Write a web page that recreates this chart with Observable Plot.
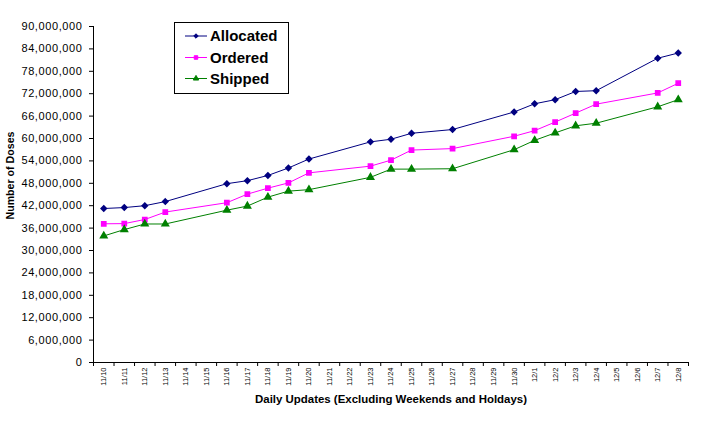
<!DOCTYPE html>
<html><head><meta charset="utf-8">
<script src="https://cdn.jsdelivr.net/npm/d3@7"></script>
<script src="https://cdn.jsdelivr.net/npm/@observablehq/plot@0.6"></script>
<style>
html,body{margin:0;padding:0;background:#fff;}
#chart{width:703px;height:423px;overflow:hidden;}
</style>
</head><body><div id="chart"></div>
<script>
const dayLabels = ["11/10","11/11","11/12","11/13","11/14","11/15","11/16","11/17","11/18","11/19","11/20","11/21","11/22","11/23","11/24","11/25","11/26","11/27","11/28","11/29","11/30","12/1","12/2","12/3","12/4","12/5","12/6","12/7","12/8"];
const updateDays = ["11/10","11/11","11/12","11/13","11/16","11/17","11/18","11/19","11/20","11/23","11/24","11/25","11/27","11/30","12/1","12/2","12/3","12/4","12/7","12/8"];
const allocated = [41250000,41500000,42000000,43100000,47900000,48700000,50100000,52100000,54500000,59100000,59800000,61400000,62400000,67100000,69300000,70400000,72600000,72800000,81500000,82900000];
const ordered   = [37150000,37200000,38300000,40300000,42800000,45100000,46700000,48100000,50800000,52600000,54200000,56900000,57300000,60600000,62100000,64400000,66800000,69200000,72200000,74800000];
const shipped   = [33900000,35600000,37100000,37100000,40800000,41900000,44300000,45900000,46300000,49600000,51800000,51800000,51900000,57000000,59500000,61500000,63400000,64100000,68500000,70400000];
const seriesNames = ["Allocated","Ordered","Shipped"];
const seriesColors = ["#000080","#FF00FF","#008000"];
const seriesSymbols = ["diamond2","square","triangle"];
const yTicks = d3.range(0, 90000001, 6000000);
const xTitle = "Daily Updates (Excluding Weekends and Holdays)";
const yTitle = "Number of Doses";

const seriesValues = [allocated, ordered, shipped];
const rows = [];
seriesNames.forEach((name, s) => {
  updateDays.forEach((day, i) => {
    rows.push({series: name, idx: dayLabels.indexOf(day), value: seriesValues[s][i]});
  });
});
const boundaries = d3.range(dayLabels.length + 1).map(i => i - 0.5);
const markerR = 2.4;

const chart = Plot.plot({
  width: 703, height: 423,
  marginLeft: 93, marginRight: 15, marginTop: 26, marginBottom: 61,
  style: {fontFamily: "Arial, 'Liberation Sans', sans-serif", fontSize: "11px", background: "#fff", color: "#000"},
  x: {domain: [-0.5, dayLabels.length - 0.5], axis: null},
  y: {domain: [0, 90000000], ticks: yTicks, tickSize: 4, tickPadding: 7, tickFormat: d3.format(","), label: null},
  color: {domain: seriesNames, range: seriesColors},
  symbol: {domain: seriesNames, range: seriesSymbols},
  marks: [
    Plot.ruleX([-0.5], {stroke: "#000"}),
    Plot.ruleY([0], {stroke: "#000"}),
    Plot.ruleX(boundaries, {x: d => d, y1: 0, y2: 0, insetBottom: -4, stroke: "#000"}),
    Plot.text(dayLabels, {x: (d, i) => i, y: 0, text: d => d, rotate: -90, textAnchor: "end", dy: 5, fontSize: 7.5, fill: "#000"}),
    Plot.line(rows, {x: "idx", y: "value", z: "series", stroke: "series", strokeWidth: 1}),
    Plot.dot(rows, {x: "idx", y: "value", symbol: "series", fill: "series", stroke: "series", r: markerR}),
    Plot.text([xTitle], {frameAnchor: "bottom", dy: 40, text: d => d, fontWeight: "bold", fontSize: 11, fill: "#000"}),
    Plot.text([yTitle], {frameAnchor: "left", dx: -83, dy: 25, text: d => d, rotate: -90, fontWeight: "bold", fontSize: 11, fill: "#000"})
  ]
});
document.getElementById("chart").appendChild(chart);

const svg = d3.select(chart);
svg.selectAll("text").filter(function(){ return this.textContent === xTitle; })
  .attr("textLength", 272).attr("lengthAdjust", "spacingAndGlyphs");
svg.selectAll("text").filter(function(){ return this.textContent === yTitle; })
  .attr("textLength", 88).attr("lengthAdjust", "spacingAndGlyphs");
svg.selectAll("text").filter(function(){ return /^\d{1,3}(,\d{3})*$/.test(this.textContent); })
  .style("letter-spacing", "0.6px");

// legend
const lg = svg.append("g").attr("class", "legend").attr("text-anchor", "start");
lg.append("rect").attr("x", 174.5).attr("y", 22.5).attr("width", 114).attr("height", 71)
  .attr("fill", "#fff").attr("stroke", "#000").attr("stroke-width", 1);
const legendY = [36, 57.5, 78.5];
const legendSyms = [d3.symbolDiamond2, d3.symbolSquare, d3.symbolTriangle];
seriesNames.forEach((name, i) => {
  const g = lg.append("g");
  g.append("line").attr("x1", 185).attr("x2", 207).attr("y1", legendY[i]).attr("y2", legendY[i])
    .attr("stroke", seriesColors[i]).attr("stroke-width", 1);
  g.append("path").attr("d", d3.symbol(legendSyms[i], 2 * 2 * Math.PI)())
    .attr("transform", `translate(196,${legendY[i]})`)
    .attr("fill", seriesColors[i]).attr("stroke", seriesColors[i]);
  g.append("text").attr("x", 210).attr("y", legendY[i]).attr("dy", "0.36em").attr("text-anchor", "start")
    .attr("font-size", 15).attr("font-weight", "bold").attr("fill", "#000").text(name);
});
</script>
</body></html>
